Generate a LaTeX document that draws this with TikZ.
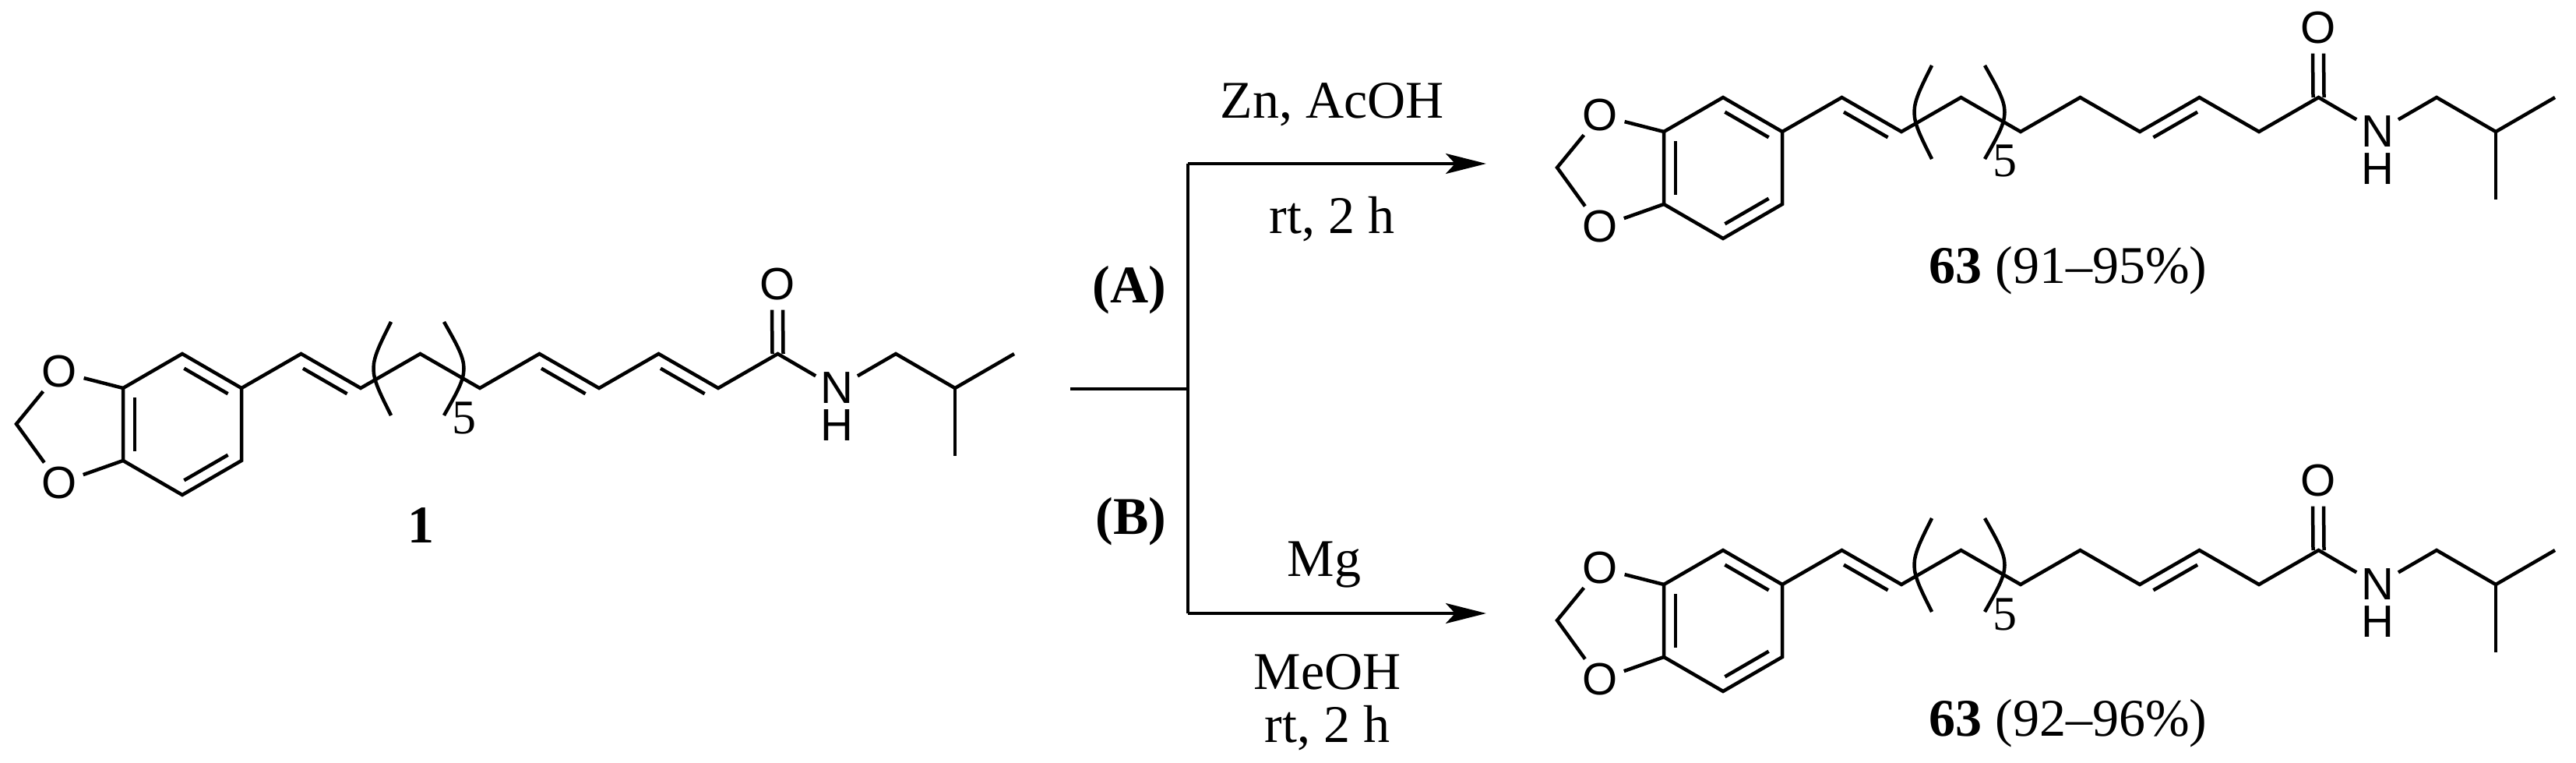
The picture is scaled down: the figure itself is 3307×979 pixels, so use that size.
\documentclass[tikz,border=0pt]{standalone}
\usepackage{fontspec}
\setmainfont{Liberation Serif}
\newfontfamily\atomfont{Liberation Sans}
\usetikzlibrary{calc,arrows.meta}
\newcommand\dbl[2]{\draw ($(#1)!0.13!(#2)!15pt!-90:(#2)$) -- ($(#2)!0.13!(#1)!15pt!90:(#1)$);}
\newcommand\mol[4]{%
\begin{scope}[shift={(#2,#3)}]
\coordinate (#1T) at (0,0);
\coordinate (#1UR) at (76,44);
\coordinate (#1LR) at (76,137);
\coordinate (#1B) at (0,181);
\coordinate (#1LL) at (-76,137);
\coordinate (#1UL) at (-76,44);
\node[atom] (#1O1) at (-158,23) {O};
\node[atom] (#1O2) at (-158,166) {O};
\coordinate (#1M) at (-213,90);
\foreach \i in {1,...,9}{\coordinate (#1C\i) at ({76+76.5*\i},{44*(1-mod(\i,2))});}
\node[atom] (#1N) at (840,44) {N};
\node[atom] (#1H) at (840,92) {H};
\node[atom] (#1O3) at (764,-89) {O};
\coordinate (#1Ca) at (916,0);
\coordinate (#1Cb) at (992,44);
\coordinate (#1Me1) at (1068,0);
\coordinate (#1Me2) at (992,131);
\draw (#1T) -- (#1UR) -- (#1LR) -- (#1B) -- (#1LL) -- (#1UL) -- cycle;
\draw (#1UL) -- (#1O1) -- (#1M) -- (#1O2) -- (#1LL);
\draw (#1UR) -- (#1C1) -- (#1C2) -- (#1C3) -- (#1C4) -- (#1C5) -- (#1C6) -- (#1C7) -- (#1C8) -- (#1C9) -- (#1N) -- (#1Ca) -- (#1Cb) -- (#1Me1);
\draw (#1Cb) -- (#1Me2);
\draw ($(#1C9)+(-7,0)$) -- ($(#1O3.south)+(-7,0)$);
\draw ($(#1C9)+(7,0)$) -- ($(#1O3.south)+(7,0)$);
\dbl{#1T}{#1UR}\dbl{#1LR}{#1B}\dbl{#1LL}{#1UL}
\dbl{#1C1}{#1C2}
#4
\draw (268,-41) .. controls (238,19) .. (268,79);
\draw (336,-41) .. controls (370,19) .. (336,79);
\node[font=\fontsize{62}{64}\selectfont] (#1five) at (362,82) {5};
\end{scope}}
\begin{document}
\begin{tikzpicture}[x=1pt,y=-1pt,line width=4.5pt,
  atom/.style={circle,inner sep=0pt,minimum size=46pt,font=\atomfont\fontsize{58}{60}\selectfont},
  cond/.style={font=\fontsize{68}{72}\selectfont},
  arr/.style={-{Stealth[length=52pt,width=26pt,inset=12pt]}}]
\useasboundingbox (0,0) rectangle (3307,979);
\mol{a}{234}{454}{\dbl{aC5}{aC6}\dbl{aC7}{aC8}}
\mol{b}{2212}{125}{\dbl{bC6}{bC7}}
\mol{c}{2212}{706}{\dbl{cC6}{cC7}}
\node[cond,font=\bfseries\fontsize{68}{72}\selectfont] (l1) at (540,674) {1};
\node[cond] (l2) at (2655,347) {\textbf{63} (91–95\%)};
\node[cond] (l3) at (2655,928) {\textbf{63} (92–96\%)};
\coordinate (s) at (1374,499);
\coordinate (j) at (1525,499);
\coordinate (jt) at (1525,210);
\coordinate (jb) at (1525,787);
\coordinate (et) at (1908,210);
\coordinate (eb) at (1908,787);
\draw (s) -- (j);
\draw (jt) -- (jb);
\draw[arr] (jt) -- (et);
\draw[arr] (jb) -- (eb);
\node[cond] (c1) at (1710,134) {Zn, AcOH};
\node[cond] (c2) at (1710,281) {rt, 2 h};
\node[cond] (c3) at (1700,725) {Mg};
\node[cond] (c4) at (1704,862) {MeOH};
\node[cond] (c5) at (1704,934) {rt, 2 h};
\node[cond,font=\bfseries\fontsize{68}{72}\selectfont] (lA) at (1450,372) {(A)};
\node[cond,font=\bfseries\fontsize{68}{72}\selectfont] (lB) at (1452,669) {(B)};
\end{tikzpicture}
\end{document}
